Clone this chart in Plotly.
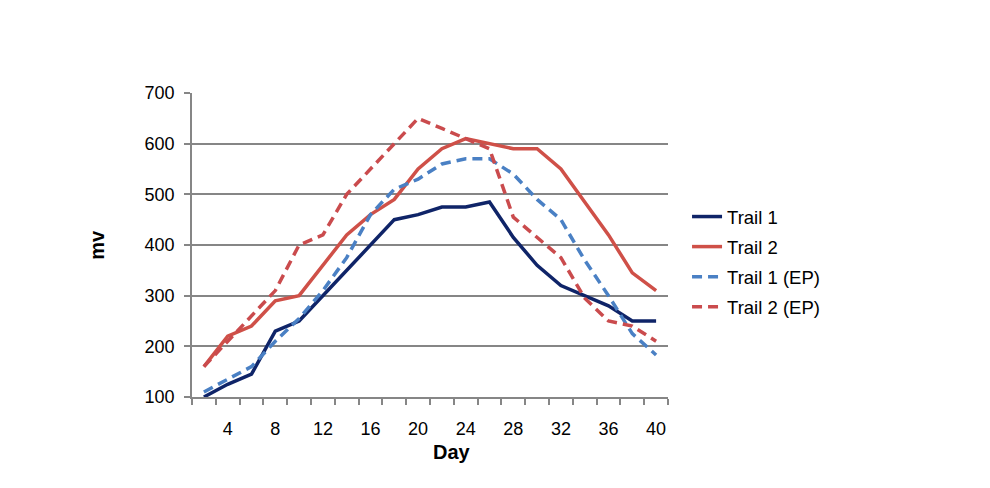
import plotly.graph_objects as go

days = list(range(2, 42, 2))
trail1 = [100, 125, 145, 230, 250, 300, 350, 400, 450, 460, 475, 475, 485, 415, 360, 320, 300, 280, 250, 250]
trail2 = [160, 220, 240, 290, 300, 360, 420, 460, 490, 550, 590, 610, 600, 590, 590, 550, 485, 420, 345, 310]
trail1_ep = [110, 135, 160, 210, 255, 310, 375, 460, 510, 530, 560, 570, 570, 540, 490, 450, 370, 300, 225, 183]
trail2_ep = [160, 210, 260, 310, 400, 420, 500, 550, 600, 650, 630, 610, 590, 455, 415, 375, 295, 250, 240, 210]
x_labels = [4, 8, 12, 16, 20, 24, 28, 32, 36, 40]
y_ticks = [100, 200, 300, 400, 500, 600, 700]

series = [
    ("Trail 1", trail1, "#0F2468", "solid"),
    ("Trail 2", trail2, "#CF5048", "solid"),
    ("Trail 1 (EP)", trail1_ep, "#4A80C4", "10px,6px"),
    ("Trail 2 (EP)", trail2_ep, "#CA4B4D", "10px,6px"),
]

fig = go.Figure()
for name, vals, color, dash in series:
    fig.add_trace(go.Scatter(x=days, y=vals, name=name, mode="lines", legendgroup=name,
                             line=dict(color=color, width=3.5, dash=dash)))

font = "Liberation Sans"
fig.update_layout(
    width=990, height=488,
    margin=dict(l=184, r=330, t=85, b=99),
    plot_bgcolor="white", paper_bgcolor="white",
    font=dict(family=font, size=18, color="black"),
    showlegend=True,
    legend=dict(x=1.04, y=0.444, xanchor="left", yanchor="middle",
                font=dict(family=font, size=18.5, color="black"),
                tracegroupgap=3, bgcolor="rgba(0,0,0,0)"),
    xaxis=dict(range=[1, 41], tickmode="array", tickvals=x_labels,
               ticktext=[str(v) for v in x_labels], ticks="", ticklabelstandoff=15,
               showgrid=False, zeroline=False, showline=True,
               linecolor="#868686", linewidth=1.5,
               minor=dict(tickmode="linear", tick0=1, dtick=2, ticks="outside",
                          ticklen=6, tickcolor="#868686", tickwidth=1.5, showgrid=False)),
    yaxis=dict(range=[100, 700], tickmode="array", tickvals=y_ticks,
               ticks="outside", ticklen=6, tickcolor="#868686", tickwidth=1.5,
               ticklabelstandoff=6,
               showgrid=True, gridcolor="#868686", gridwidth=1.5,
               zeroline=False, showline=True, linecolor="#868686", linewidth=1.5),
    annotations=[
        dict(text="<b>Day</b>", xref="paper", yref="paper", x=0.546, y=-0.181,
             xanchor="center", yanchor="middle", showarrow=False,
             font=dict(family=font, size=20, color="black")),
        dict(text="<b>mv</b>", xref="paper", yref="paper", x=-0.2, y=0.50,
             xanchor="center", yanchor="middle", showarrow=False, textangle=-90,
             font=dict(family=font, size=20, color="black")),
    ],
)

fig.write_html("out.html")
